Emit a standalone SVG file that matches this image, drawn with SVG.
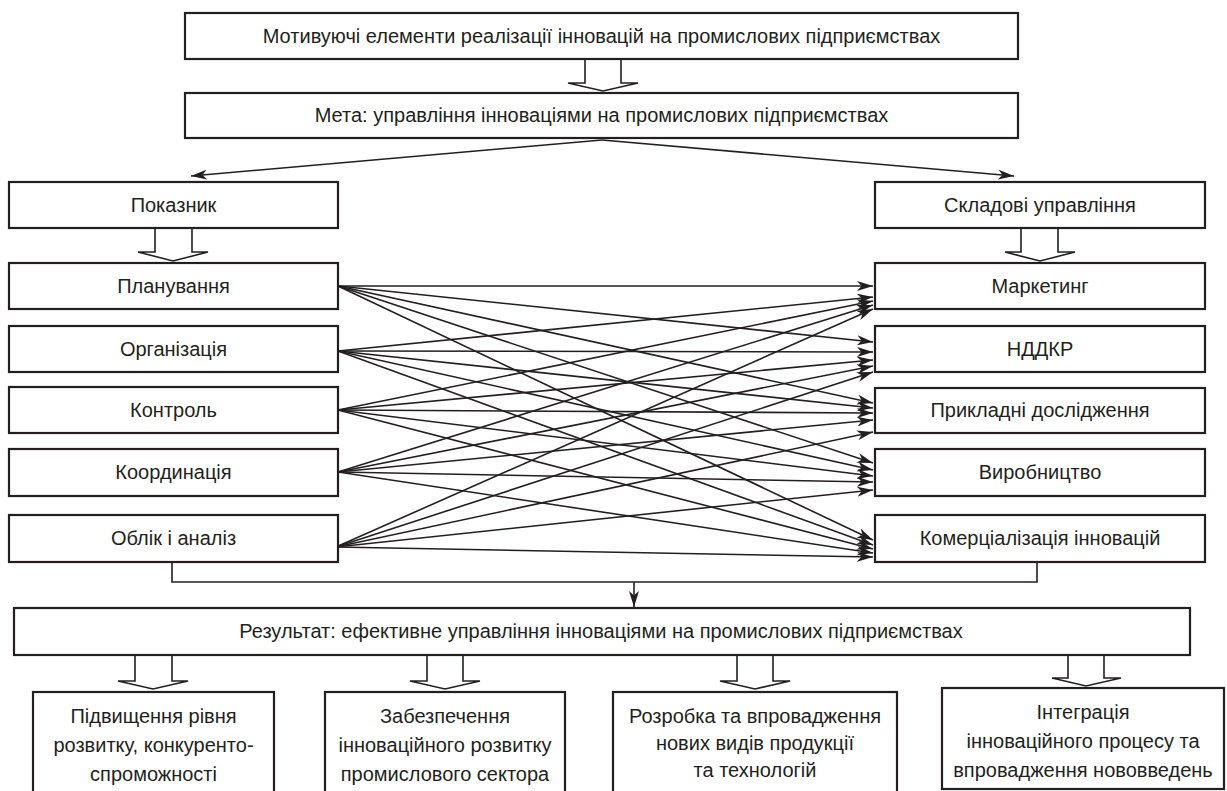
<svg xmlns="http://www.w3.org/2000/svg" width="1227" height="791" viewBox="0 0 1227 791">
<style>
.box{fill:#fff;stroke:#231f20;stroke-width:2.2}
.t{font-family:"Liberation Sans",Arial,sans-serif;font-size:20px;fill:#231f20;text-anchor:middle}
.ln{fill:none;stroke:#231f20;stroke-width:1.6}
.ar{fill:none;stroke:#231f20;stroke-width:1.6;marker-end:url(#ah)}
.hol{fill:#fff;stroke:#231f20;stroke-width:1.6;stroke-linejoin:miter}
</style>
<defs>
<marker id="ah" viewBox="0 -5 16 10" refX="16" refY="0" markerWidth="16" markerHeight="10" markerUnits="userSpaceOnUse" orient="auto">
<path d="M0,-5 L16,0 L0,5 L4.5,0 Z" fill="#231f20"/>
</marker>
</defs>
<rect width="1227" height="791" fill="#fff"/>

<g id="connectors">
<path class="hol" d="M585,59 V83 H568 L603,91 L638,83 H621 V59"/>
<path class="hol" d="M155,228 V252 H138 L173,261 L208,252 H192 V228"/>
<path class="hol" d="M1021,228 V252 H1005 L1040,261 L1075,252 H1058 V228"/>
<path class="hol" d="M135,655 V681 H118 L153,689 L188,681 H172 V655"/>
<path class="hol" d="M427,655 V681 H410 L445,689 L480,681 H463 V655"/>
<path class="hol" d="M737,655 V681 H720 L755,689 L790,681 H773 V655"/>
<path class="hol" d="M1068,655 V678 H1052 L1086,686 L1121,678 H1104 V655"/>
<line class="ar" x1="602" y1="140" x2="191" y2="176"/>
<line class="ar" x1="602" y1="140" x2="1014" y2="176"/>
<path class="ln" d="M172,562 V582 H1037 V562"/>
<line class="ar" x1="634" y1="582" x2="634" y2="607"/>
<line class="ar" x1="338" y1="286" x2="873" y2="286"/>
<line class="ar" x1="338" y1="286" x2="873" y2="342"/>
<line class="ar" x1="338" y1="286" x2="873" y2="403"/>
<line class="ar" x1="338" y1="286" x2="873" y2="463"/>
<line class="ar" x1="338" y1="286" x2="873" y2="540"/>
<line class="ar" x1="338" y1="351" x2="873" y2="297"/>
<line class="ar" x1="338" y1="351" x2="873" y2="352"/>
<line class="ar" x1="338" y1="351" x2="873" y2="408"/>
<line class="ar" x1="338" y1="351" x2="873" y2="470"/>
<line class="ar" x1="338" y1="351" x2="873" y2="545"/>
<line class="ar" x1="338" y1="410" x2="873" y2="301"/>
<line class="ar" x1="338" y1="410" x2="873" y2="360"/>
<line class="ar" x1="338" y1="410" x2="873" y2="413"/>
<line class="ar" x1="338" y1="410" x2="873" y2="476"/>
<line class="ar" x1="338" y1="410" x2="873" y2="549"/>
<line class="ar" x1="338" y1="472" x2="873" y2="305"/>
<line class="ar" x1="338" y1="472" x2="873" y2="366"/>
<line class="ar" x1="338" y1="472" x2="873" y2="420"/>
<line class="ar" x1="338" y1="472" x2="873" y2="482"/>
<line class="ar" x1="338" y1="472" x2="873" y2="553"/>
<line class="ar" x1="336" y1="547" x2="873" y2="309"/>
<line class="ar" x1="336" y1="547" x2="873" y2="372"/>
<line class="ar" x1="336" y1="547" x2="873" y2="432"/>
<line class="ar" x1="336" y1="547" x2="873" y2="490"/>
<line class="ar" x1="336" y1="547" x2="873" y2="557"/>
</g>

<g id="motivation"><rect class="box" x="185" y="13" width="833" height="46"/><text class="t" x="601.5" y="43">Мотивуючі елементи реалізації інновацій на промислових підприємствах</text></g>
<g id="goal"><rect class="box" x="185" y="93" width="833" height="45"/><text class="t" x="601.5" y="122">Мета: управління інноваціями на промислових підприємствах</text></g>

<g id="indicator"><rect class="box" x="9" y="182" width="329" height="46"/><text class="t" x="173.5" y="212">Показник</text></g>
<g id="planning"><rect class="box" x="9" y="263" width="329" height="46"/><text class="t" x="173.5" y="293">Планування</text></g>
<g id="organization"><rect class="box" x="9" y="326" width="329" height="46"/><text class="t" x="173.5" y="356">Організація</text></g>
<g id="control"><rect class="box" x="9" y="387" width="329" height="46"/><text class="t" x="173.5" y="417">Контроль</text></g>
<g id="coordination"><rect class="box" x="9" y="449" width="329" height="47"/><text class="t" x="173.5" y="479">Координація</text></g>
<g id="accounting"><rect class="box" x="9" y="515" width="329" height="47"/><text class="t" x="173.5" y="545">Облік і аналіз</text></g>

<g id="components"><rect class="box" x="875" y="182" width="330" height="46"/><text class="t" x="1040" y="212">Складові управління</text></g>
<g id="marketing"><rect class="box" x="875" y="263" width="330" height="46"/><text class="t" x="1040" y="293">Маркетинг</text></g>
<g id="rnd"><rect class="box" x="875" y="326" width="330" height="46"/><text class="t" x="1040" y="356">НДДКР</text></g>
<g id="applied"><rect class="box" x="875" y="388" width="330" height="45"/><text class="t" x="1040" y="417">Прикладні дослідження</text></g>
<g id="production"><rect class="box" x="875" y="449" width="330" height="47"/><text class="t" x="1040" y="479">Виробництво</text></g>
<g id="commercialization"><rect class="box" x="875" y="515" width="330" height="47"/><text class="t" x="1040" y="545">Комерціалізація інновацій</text></g>

<g id="result"><rect class="box" x="14" y="608" width="1176" height="47"/><text class="t" x="601" y="638">Результат: ефективне управління інноваціями на промислових підприємствах</text></g>

<g id="out1"><rect class="box" x="33" y="692" width="241" height="110"/><text class="t" x="153.5" y="723">Підвищення рівня</text><text class="t" x="153.5" y="752">розвитку, конкуренто-</text><text class="t" x="153.5" y="781">спроможності</text></g>
<g id="out2"><rect class="box" x="325" y="692" width="240" height="110"/><text class="t" x="445" y="723">Забезпечення</text><text class="t" x="445" y="752">інноваційного розвитку</text><text class="t" x="445" y="781">промислового сектора</text></g>
<g id="out3"><rect class="box" x="613" y="692" width="284" height="110"/><text class="t" x="755" y="723">Розробка та впровадження</text><text class="t" x="755" y="750">нових видів продукції</text><text class="t" x="755" y="777">та технологій</text></g>
<g id="out4"><rect class="box" x="942" y="688" width="282" height="101"/><text class="t" x="1083" y="719">Інтеграція</text><text class="t" x="1083" y="748">інноваційного процесу та</text><text class="t" x="1083" y="777">впровадження нововведень</text></g>
</svg>
